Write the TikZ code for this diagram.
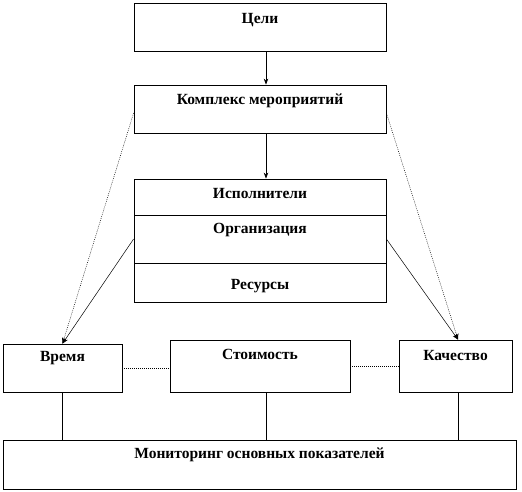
\documentclass[tikz,border=0pt]{standalone}
\usepackage{fontspec}
\setmainfont{Liberation Serif}
\usepackage{tikz}
\usetikzlibrary{arrows.meta, calc, positioning}

\begin{document}
\begin{tikzpicture}[
        x=1pt, y=-1pt,
        box/.style={draw, line width=0.8pt, inner sep=0pt},
        txt/.style={font=\fontsize{15.5}{17}\selectfont\bfseries, inner sep=0pt},
        arr/.style={-{Stealth[length=6pt, width=4.5pt]}, line width=0.7pt},
        link/.style={line width=0.5pt},
        dots/.style={line width=0.5pt, dash pattern=on 0.8pt off 1.2pt}
      ]
      \useasboundingbox (0,0) rectangle (522,491);
      \node[box, minimum width=252pt, minimum height=48pt] (goals)   at (260,27)  {};
      \node[box, minimum width=252pt, minimum height=48pt] (complex) at (260,109) {};
      \node[box, minimum width=252pt, minimum height=36pt] (exec)    at (260,197) {};
      \node[box, minimum width=252pt, minimum height=48pt] (org)     at (260,239) {};
      \node[box, minimum width=252pt, minimum height=39pt] (res)     at (260,282.5) {};
      \node[box, minimum width=119pt, minimum height=48pt] (time)    at (62.5,368) {};
      \node[box, minimum width=180pt, minimum height=52pt] (cost)    at (260,366) {};
      \node[box, minimum width=113pt, minimum height=52pt] (quality) at (455.5,366) {};
      \node[box, minimum width=513pt, minimum height=49pt] (monitor) at (259.5,464.5) {};

      \node[txt] (goalsT)   at ([yshift=-17pt]goals.north)   {Цели};
      \node[txt] (complexT) at ([yshift=-16pt]complex.north) {Комплекс мероприятий};
      \node[txt] (execT)    at ([yshift=-15pt]exec.north)    {Исполнители};
      \node[txt] (orgT)     at ([yshift=-15pt]org.north)     {Организация};
      \node[txt] (resT)     at ([yshift=-23pt]res.north)     {Ресурсы};
      \node[txt] (timeT)    at ([yshift=-14pt]time.north)    {Время};
      \node[txt] (costT)    at ([yshift=-15pt]cost.north)    {Стоимость};
      \node[txt] (qualityT) at ([yshift=-16pt]quality.north) {Качество};
      \node[txt] (monitorT) at ([yshift=-15pt]monitor.north) {Мониторинг основных показателей};

      \draw[arr] ([xshift=6pt]goals.south) -- ([xshift=6pt]complex.north);
      \draw[arr] ([xshift=6pt]complex.south) -- ([xshift=6pt]exec.north);
      \draw[dots, arr, line width=0.5pt] ([yshift=-4pt]complex.west) -- (time.north);
      \draw[dots, arr, line width=0.5pt] ([yshift=-4pt]complex.east) -- ([xshift=2.5pt]quality.north);
      \draw[link, arr, line width=0.5pt] (org.west) -- (time.north);
      \draw[link, arr, line width=0.5pt] (org.east) -- ([xshift=2.5pt]quality.north);
      \draw[dots] (time.east) -- (time.east -| cost.west);
      \draw[dots] (cost.east) -- (quality.west);
      \draw[link, line width=0.8pt] (time.south) -- (time.south |- monitor.north);
      \draw[link, line width=0.8pt] ([xshift=6pt]cost.south) -- ([xshift=6pt]cost.south |- monitor.north);
      \draw[link, line width=0.8pt] ([xshift=2.5pt]quality.south) -- ([xshift=2.5pt]quality.south |- monitor.north);
    \end{tikzpicture}
\end{document}
